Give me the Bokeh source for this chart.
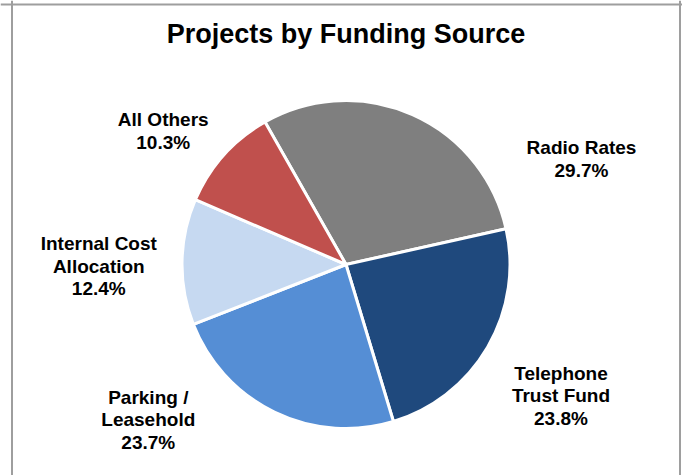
import numpy as np
from bokeh.plotting import figure
from bokeh.models import ColumnDataSource, Range1d, Span
from bokeh.core.properties import value
from bokeh.embed import file_html
from bokeh.resources import INLINE

# ---- data ----
categories = ["Radio Rates", "Telephone Trust Fund", "Parking / Leasehold",
              "Internal Cost Allocation", "All Others"]
percents = [29.7, 23.8, 23.7, 12.4, 10.3]
label_texts = ["Radio Rates\n29.7%", "Telephone\nTrust Fund\n23.8%",
               "Parking /\nLeasehold\n23.7%", "Internal Cost\nAllocation\n12.4%",
               "All Others\n10.3%"]
colors = ["#7F7F7F", "#1F497D", "#558ED5", "#C6D9F1", "#C0504D"]
title_text = "Projects by Funding Source"

# ---- layout (pixel units, origin at pie centre) ----
label_x = [235.5, 215.0, -197.7, -247.2, -182.8]
label_y = [105.6, -131.3, -155.5, -1.7, 133.7]
radius = 164
first_angle = np.deg2rad(119.6)

vals = np.array(percents, dtype=float)
frac = vals / vals.sum()
cum_after = np.cumsum(frac)
cum_before = cum_after - frac
start = first_angle - cum_after * 2 * np.pi
end = first_angle - cum_before * 2 * np.pi

src = ColumnDataSource(dict(cat=categories, start=start, end=end, color=colors))
lab = ColumnDataSource(dict(x=label_x, y=label_y, text=label_texts))

W, H = 682, 475
p = figure(width=W, height=H, output_backend="svg", toolbar_location=None,
           x_range=Range1d(0 - 345.5, 682 - 345.5), y_range=Range1d(264 - 475, 264 - 0),
           min_border=0, outline_line_color=None, background_fill_color="white",
           border_fill_color="white")
p.axis.visible = False
p.grid.visible = False

p.wedge(x=0, y=0, radius=radius, start_angle="start", end_angle="end",
        direction="anticlock", fill_color="color", line_color="white",
        line_width=3, source=src)

p.text(x="x", y="y", text="text", source=lab, text_align="center",
       text_baseline="middle", text_font=value("Liberation Sans"),
       text_font_style="bold", text_font_size="19px", text_line_height=1.08,
       text_color="black")

p.text(x=[0], y=[230.5], text=[title_text], text_align="center",
       text_baseline="alphabetic", text_font=value("Liberation Sans"),
       text_font_style="bold", text_font_size="27px", text_color="black")

border_color = "#9E9E9E"
p.add_layout(Span(location=-334, dimension="height", line_color=border_color, line_width=2))
p.add_layout(Span(location=334, dimension="height", line_color=border_color, line_width=2))
p.add_layout(Span(location=260, dimension="width", line_color=border_color, line_width=2))

open("out.html", "w").write(file_html(p, INLINE))
